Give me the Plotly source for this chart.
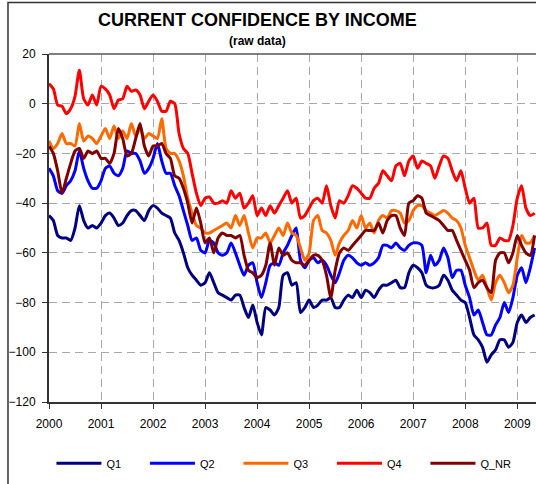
import plotly.graph_objects as go

# monthly readings, Jan 2000 .. May 2009
start_year = 2000
q1 = [-45, -47, -53, -54, -54, -55, -50, -41, -47, -50, -49, -50,
      -48, -45, -44, -46, -49, -48, -45, -43, -43, -45, -47, -43,
      -41, -42, -44, -45, -46, -52, -55, -60, -66, -69, -71, -73,
      -72, -68, -72, -76, -77, -78, -79, -77, -77, -82, -86, -81,
      -88, -93, -82, -83, -85, -82, -69, -68, -73, -72, -84, -82,
      -79, -82, -81, -79, -79, -78, -82, -82, -79, -77, -78, -75,
      -78, -75, -76, -78, -75, -73, -73, -72, -71, -74, -74, -68,
      -65, -66, -68, -73, -74, -74, -73, -69, -71, -75, -77, -79,
      -80, -86, -93, -95, -98, -104, -101, -99, -95, -95, -98, -96,
      -88, -85, -88, -86, -85]
q2 = [-26, -29, -35, -36, -33, -31, -27, -19, -26, -31, -34, -34,
      -31, -26, -25, -28, -29, -26, -19, -20, -20, -23, -28, -26,
      -22, -16, -23, -28, -28, -33, -37, -43, -49, -55, -54, -59,
      -60, -55, -56, -60, -61, -60, -56, -60, -65, -69, -65, -64,
      -72, -78, -72, -65, -64, -65, -60, -57, -53, -50, -63, -66,
      -63, -62, -64, -63, -65, -69, -72, -68, -63, -61, -62, -64,
      -65, -64, -65, -64, -62, -57, -57, -58, -56, -58, -59, -57,
      -56, -56, -57, -68, -61, -65, -63, -58, -62, -70, -67, -67,
      -73, -78, -85, -83, -88, -93, -93, -89, -86, -80, -84, -78,
      -69, -66, -72, -66, -58]
q3 = [-15, -18, -16, -12, -16, -16, -17, -8, -15, -13, -14, -16,
      -13, -10, -14, -9, -14, -11, -14, -8, -13, -10, -14, -12,
      -13, -14, -6, -18, -20, -20, -23, -29, -38, -44, -49, -50,
      -52, -52, -51, -50, -49, -48, -50, -45, -49, -45, -52, -58,
      -54, -54, -52, -56, -53, -50, -53, -48, -52, -53, -58, -63,
      -60, -47, -45, -51, -52, -55, -61, -56, -53, -51, -47, -50,
      -45, -50, -48, -52, -47, -45, -46, -43, -43, -44, -48, -47,
      -43, -41, -41, -43, -44, -45, -44, -43, -44, -46, -47, -50,
      -57, -62, -67, -71, -69, -74, -79, -72, -69, -72, -76, -73,
      -62, -53, -56, -56, -53]
q4 = [8, 6, -0.5, -1, -4, -2, 3, 13.5, 2, -0.5, 3.5, -0.5,
      7, 6, 3.5, -2, 1.5, 2, 7, 5, 5.5, 3.5, -2, 1,
      3.5, 1, -3, -3, 1, 0, -12, -18, -20, -28, -36, -41,
      -38, -37.5, -40, -40, -39, -40, -35, -38, -36, -42, -40, -37,
      -45, -42, -45, -41, -44, -41, -38, -35, -40, -38, -46, -45,
      -42, -39, -38, -40, -33, -41, -46, -39, -40, -37, -33, -34,
      -36, -38, -38, -34, -32, -27, -29, -31, -25, -24, -29, -23,
      -21, -26, -23, -24, -25, -30, -25, -21, -22, -27, -31, -27,
      -34, -40, -38, -50, -50, -48, -57, -57, -54, -55, -55, -49,
      -38, -33, -42, -45, -44]
q_nr = [-17, -20, -27, -36, -30, -24, -19, -18, -22, -19, -20, -19,
        -22, -22, -24, -20, -10, -14, -21, -20, -14, -8, -17, -21,
        -17, -17, -16, -20, -22, -29, -30, -34, -40, -48, -42, -48,
        -56, -54, -60, -54, -52, -53, -53, -54, -53, -61, -67, -68,
        -70, -69, -65, -56, -65, -58, -61, -60, -63, -64, -64, -65,
        -63, -61, -61, -63, -69, -78, -67, -60, -58, -59, -57, -55,
        -53, -51, -51, -51, -48, -52, -47, -45, -45, -50, -53, -40,
        -39, -37, -38, -44, -45, -46, -47, -49, -51, -51, -55, -59,
        -63, -67, -74, -72, -71, -74, -76, -63, -60, -60, -64, -60,
        -53, -57, -60, -61, -53]

series = [("Q1", q1, "#000080"), ("Q2", q2, "#0000FF"), ("Q3", q3, "#FF6A00"),
          ("Q4", q4, "#FF0000"), ("Q_NR", q_nr, "#800000")]
years = list(range(2000, 2010))

t = [start_year + m / 12 for m in range(len(q1))]

fig = go.Figure()
for name, vals, col in series:
    fig.add_trace(go.Scatter(x=t, y=vals, name=name, mode="lines",
                             line=dict(color=col, width=3, shape="spline", smoothing=0.6)))

font = "Liberation Sans, Arial, sans-serif"
grid = dict(showgrid=True, gridcolor="#a8a8a8", griddash="8px,5px", gridwidth=1,
            showline=True, linecolor="#333333", linewidth=2, ticks="outside",
            ticklen=5, tickcolor="#333333", zeroline=False, automargin=False)
fig.update_layout(
    width=536, height=484,
    margin=dict(l=49, r=0, t=54, b=82),
    plot_bgcolor="white", paper_bgcolor="white",
    font=dict(family=font, size=12, color="black"),
    xaxis=dict(range=[2000, 2009.36], tickvals=years, ticktext=[str(y) for y in years],
               ticklabelstandoff=5, **grid),
    yaxis=dict(range=[-120, 20], dtick=20, ticklabelstandoff=4, **grid),
    showlegend=True,
    legend=dict(orientation="h", x=0.005, y=-0.176, yanchor="middle", xanchor="left",
                entrywidth=33.5, entrywidthmode="pixels", itemwidth=45,
                font=dict(size=11, family=font), tracegroupgap=0),
    shapes=[
        dict(type="line", xref="paper", yref="paper", x0=0, x1=1, y0=1, y1=1,
             line=dict(color="#555555", width=1.5)),
        dict(type="rect", xref="paper", yref="paper", x0=-0.0842, x1=1.01,
             y0=-0.26, y1=1.148, line=dict(color="#333333", width=1.5)),
    ],
    annotations=[
        dict(text="<b>CURRENT CONFIDENCE BY INCOME</b>", xref="paper", yref="paper",
             x=0.429, y=1.099, yanchor="middle", showarrow=False,
             font=dict(size=18, family=font)),
        dict(text="<b>(raw data)</b>", xref="paper", yref="paper",
             x=0.429, y=1.036, yanchor="middle", showarrow=False,
             font=dict(size=12, family=font)),
    ],
)

# the page body has an 8px default margin; drop it so the figure sits at 0,0
fig.write_html("out.html", config={"displayModeBar": False},
               post_script="document.body.style.margin='0';")
